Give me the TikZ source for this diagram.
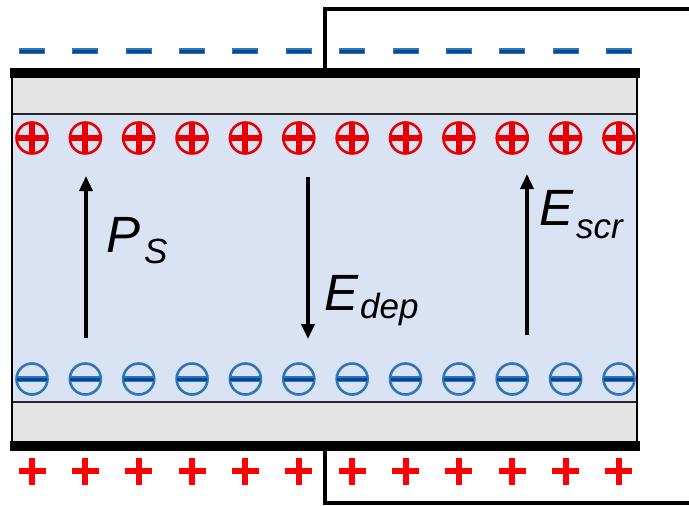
\documentclass[tikz,border=0pt]{standalone}
\usepackage{fontspec}
\setmainfont{Liberation Sans}
\usetikzlibrary{arrows.meta}

\definecolor{chRed}{RGB}{232,0,0}
\definecolor{chPlus}{RGB}{255,0,0}
\definecolor{chBlue}{RGB}{46,117,185}
\definecolor{chBlueDark}{RGB}{5,72,150}
\definecolor{ferroFill}{RGB}{218,227,243}
\definecolor{layerFill}{RGB}{229,228,228}

\tikzset{
  wire/.style={line width=3.5pt, black},
  electrode/.style={fill=black},
  boundary/.style={line width=2.2pt, black!85},
  field/.style={line width=3.5pt, -{Triangle[width=13pt,length=15pt]}},
  pluscharge/.style={circle, draw=chRed, line width=2.6pt, minimum size=31pt, inner sep=0pt},
  minuscharge/.style={circle, draw=chBlue, line width=2.6pt, minimum size=31pt, inner sep=0pt},
  redbar/.style={chRed, line width=6pt},
  bluebar/.style={chBlue, line width=6.5pt},
  bluecore/.style={chBlueDark, line width=3pt},
  freeplus/.style={chPlus, line width=6pt},
  lbl/.style={anchor=base west, inner sep=0pt, font=\fontsize{51}{60}\selectfont\itshape},
}

\newcommand{\subtxt}[2]{\raisebox{-#1pt}{\fontsize{35}{40}\selectfont #2}}

\begin{document}
\begin{tikzpicture}[x=1pt,y=-1pt]
  \useasboundingbox (0,0) rectangle (689,506);
  \fill[white] (0,0) rectangle (689,506);

  % external circuit
  \draw[wire] (325,72) -- (325,9) -- (695,9);
  \draw[wire] (325,447) -- (325,503) -- (695,503);

  % dielectric and ferroelectric layers
  \fill[layerFill] (11,78) rectangle (638,114);
  \fill[ferroFill] (11,114) rectangle (638,402);
  \fill[layerFill] (11,402) rectangle (638,441);
  \draw[boundary] (11,114) -- (638,114);
  \draw[boundary] (11,402) -- (638,402);
  \draw[line width=2.5pt] (12,70) -- (12,449);
  \draw[line width=2.5pt] (637,70) -- (637,449);

  % electrodes
  \fill[electrode] (10,68) rectangle (640,78);
  \fill[electrode] (10,441) rectangle (640,451);

  % charges
  \foreach \i in {0,...,11} {
    \pgfmathsetmacro{\cx}{32+53.36*\i}
    % screening charge on the top electrode
    \draw[bluebar] (\cx-13,51) -- (\cx+13,51);
    \draw[bluecore] (\cx-12,51) -- (\cx+12,51);
    % bound polarization charges
    \node[pluscharge] (pol\i) at (\cx,138) {};
    \draw[redbar] ([yshift=15.5pt]pol\i.center) -- ([yshift=-15.5pt]pol\i.center)
                  ([xshift=-15.5pt]pol\i.center) -- ([xshift=15.5pt]pol\i.center);
    \node[minuscharge] (neg\i) at (\cx,379) {};
    \draw[bluebar] ([xshift=-15.5pt]neg\i.center) -- ([xshift=15.5pt]neg\i.center);
    \draw[bluecore] ([xshift=-15pt]neg\i.center) -- ([xshift=15pt]neg\i.center);
    % screening charge on the bottom electrode
    \draw[freeplus] (\cx-13.5,471) -- (\cx+13.5,471) (\cx,457.5) -- (\cx,484.5);
  }

  % field arrows
  \coordinate (psTail) at (86,338);
  \coordinate (psHead) at (86,176);
  \coordinate (depTail) at (308,177);
  \coordinate (depHead) at (308,339);
  \coordinate (scrTail) at (527,335);
  \coordinate (scrHead) at (527,174);
  \draw[field] (psTail) -- (psHead);
  \draw[field] (depTail) -- (depHead);
  \draw[field] (scrTail) -- (scrHead);

  % labels
  \node[lbl] (psLabel) at (106,252) {P\hspace{4pt}\subtxt{11}{S}};
  \node[lbl] (depLabel) at (324,310) {E\hspace{2pt}\subtxt{8}{dep}};
  \node[lbl] (scrLabel) at (539,225) {E\hspace{3pt}\subtxt{13}{scr}};
\end{tikzpicture}
\end{document}
